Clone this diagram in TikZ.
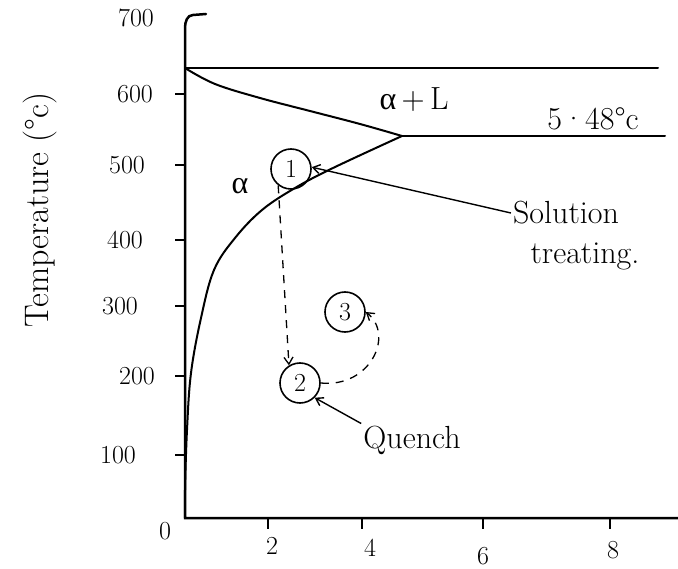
\documentclass[tikz,border=0pt]{standalone}
\usepackage{fontspec}
\newfontfamily\grk{Liberation Serif}
\usetikzlibrary{arrows.meta}
\begin{document}
\begin{tikzpicture}[
    x=1pt, y=-1pt,
    asse/.style={line width=2.5pt, line cap=round},
    curva/.style={line width=2pt, line cap=round},
    tacca/.style={line width=1.6pt},
    stato/.style={circle, draw, line width=1.6pt, minimum size=40pt, inner sep=0pt, font=\fontsize{26}{28}\selectfont},
    freccia/.style={line width=1.4pt, -{Straight Barb[length=7pt,width=9pt]}},
    tratto/.style={line width=1.3pt, dash pattern=on 8pt off 7pt, -{Straight Barb[length=7pt,width=9pt]}},
    testo/.style={font=\fontsize{32}{34}\selectfont, inner sep=2pt},
    numero/.style={font=\fontsize{26}{28}\selectfont, inner sep=1pt}
]
    \useasboundingbox (0,0) rectangle (678,569);

    % 1. Assi
    \coordinate (O) at (185,518);
    \draw[asse] (678,518) -- (O) -- (185,28) to[out=90,in=180] (193,15) -- (206,14);
    \node[testo, rotate=90, font=\fontsize{34}{36}\selectfont] (ylab) at (40,210) {Temperature (°c)};

    % tacche asse y (posizione / x etichetta / valore)
    \foreach \y/\lx/\t in {455/118/100, 376/137/200, 306/120/300, 240/125/400, 165/127/500, 94/135/600} {
        \draw[tacca] (175,\y) -- (185,\y);
        \node[numero] (yl\t) at (\lx,\y) {\t};
    }
    \node[numero] (yl700) at (136,18) {700};
    \node[numero] (yl0) at (165,531) {0};

    % tacche asse x
    \foreach \x/\lx/\ly/\t in {268/272/546/2, 362/370/548/4, 483/483/556/6, 610/613/550/8} {
        \draw[tacca] (\x,518) -- (\x,529);
        \node[numero] (xl\t) at (\lx,\ly) {\t};
    }

    % 2. Linee del diagramma
    \coordinate (Tm) at (185,68);
    \coordinate (E) at (402,136);
    \draw[curva] (Tm) -- (658,68);
    \draw[curva] (E) -- (665,136);
    % liquidus
    \draw[curva] plot[smooth, tension=0.6] coordinates {(185,68) (215,84) (260,98) (310,111) (360,124) (402,136)};
    % solidus
    \draw[curva] plot[smooth, tension=0.6] coordinates {(402,136) (333,168) (295,188) (262,210) (235,238) (214,270) (201,318) (191,373) (187,430) (185,490) (185,518)};

    % 3. Etichette delle fasi
    \node[testo] (alfa) at (240,186) {{\grk α}};
    \node[testo] (alfaL) at (414,100) {{\grk α}\,+\,L};
    \node[testo] (eut) at (593,119) {5·48°c};

    % 4. Stati del trattamento
    \node[stato] (c1) at (291,169) {1};
    \node[stato] (c2) at (300,383) {2};
    \node[stato] (c3) at (345,312) {3};

    \node[testo] (solA) at (566,213) {Solution};
    \node[testo] (solB) at (585,256) {treating.};
    \node[testo] (quench) at (412,440) {Quench};

    \draw[freccia, {Straight Barb[length=7pt,width=9pt]}-] (c1.5) -- (solA.west);
    \draw[freccia] (quench.north west) -- (c2.-45);
    \draw[tratto] (c1.232) -- (c2.122);
    \draw[tratto] (c2.east) .. controls (370,388) and (395,335) .. (c3.east);

\end{tikzpicture}
\end{document}
